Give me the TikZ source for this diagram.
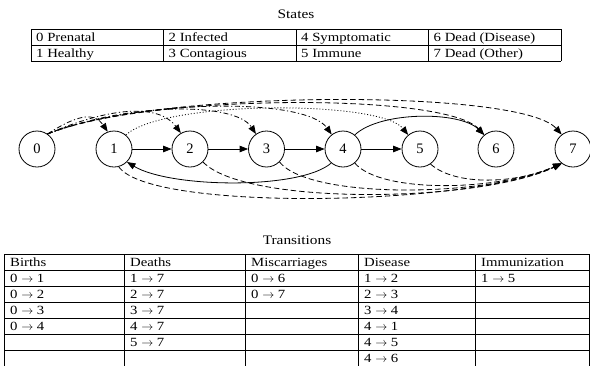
\documentclass[tikz,border=0pt]{standalone}
\usepackage{fontspec}
\setmainfont{Liberation Serif}
\newfontfamily\widefont[FakeStretch=1.18]{Liberation Serif}
\usetikzlibrary{arrows.meta}

\tikzset{
  state/.style={circle, draw, line width=0.8pt, minimum size=36pt, inner sep=0pt,
    font=\fontsize{14.5}{16}\selectfont},
  link/.style={line width=0.8pt, -{Triangle[length=8.5pt,width=6.5pt]}},
  birth/.style={link, dash pattern=on 5pt off 2.5pt on 1.2pt off 2.5pt},
  death/.style={link, dash pattern=on 5.5pt off 3pt},
  immune/.style={link, dash pattern=on 1pt off 2pt},
  rule/.style={line width=1pt},
  cell/.style={anchor=base west, inner sep=0pt, font=\widefont\fontsize{12.5}{14}\selectfont},
  caption/.style={anchor=base, inner sep=0pt, font=\widefont\fontsize{13}{15}\selectfont},
}

\begin{document}
\begin{tikzpicture}[x=1pt, y=-1pt]
\useasboundingbox (0,0) rectangle (590,365);

% ---------- states table ----------
\node[caption] (statesTitle) at (296,18) {States};
\foreach \x in {31,163.5,296,428.5,561} \draw[rule] (\x,29) -- (\x,61);
\foreach \y in {29,45,61} \draw[rule] (31,\y) -- (561,\y);
\node[cell] (s0) at (36,41.5) {0 Prenatal};
\node[cell] (s1) at (36,57.5) {1 Healthy};
\node[cell] (s2) at (168.5,41.5) {2 Infected};
\node[cell] (s3) at (168.5,57.5) {3 Contagious};
\node[cell] (s4) at (301,41.5) {4 Symptomatic};
\node[cell] (s5) at (301,57.5) {5 Immune};
\node[cell] (s6) at (433.5,41.5) {6 Dead (Disease)};
\node[cell] (s7) at (433.5,57.5) {7 Dead (Other)};

% ---------- state graph ----------
\node[state] (n0) at (37,149)  {0};
\node[state] (n1) at (114,149) {1};
\node[state] (n2) at (190,149) {2};
\node[state] (n3) at (266.5,149) {3};
\node[state] (n4) at (343,149) {4};
\node[state] (n5) at (420,149) {5};
\node[state] (n6) at (496,149) {6};
\node[state] (n7) at (573,149) {7};

% disease progression
\draw[link] (n1) -- (n2);
\draw[link] (n2) -- (n3);
\draw[link] (n3) -- (n4);
\draw[link] (n4) -- (n5);
\draw[link] (n4.50) .. controls (380,111) and (460,111) .. (n6.130);
\draw[link] (n4.-130) .. controls (300,190) and (170,188) .. (n1.-45);

% births
\draw[birth] (n0.55) .. controls (80,113) and (95,113) .. (n1.110);
\draw[birth] (n0.55) .. controls (115,105) and (160,105) .. (n2.120);
\draw[birth] (n0.55) .. controls (130,102) and (235,102) .. (n3.125);
\draw[birth] (n0.55) .. controls (140,99) and (305,97) .. (n4.128);

% miscarriages
\draw[death] (n0.55) .. controls (145,94) and (445,92) .. (n6.130);
\draw[death] (n0.55) .. controls (150,90) and (520,88) .. (n7.128);

% immunization
\draw[immune] (n1.50) .. controls (165,100) and (380,100) .. (n5.130);

% deaths
\draw[death] (n1.-75) .. controls (150,212) and (470,206) .. (n7.-128);
\draw[death] (n2.-45) .. controls (245,206) and (480,203) .. (n7.-128);
\draw[death] (n3.-45) .. controls (310,200) and (490,197) .. (n7.-128);
\draw[death] (n4.-50) .. controls (380,193) and (495,192) .. (n7.-128);
\draw[death] (n5.-55) .. controls (455,186) and (515,184) .. (n7.-128);

% ---------- transitions table (runs past the lower edge) ----------
\node[caption] (transTitle) at (297,244) {Transitions};
\foreach \x in {4,124,245,358,475,589} \draw[rule] (\x,254) -- (\x,366);
\foreach \y in {254,270,286,302,318,334,350} \draw[rule] (4,\y) -- (589,\y);

\node[cell] (hB) at (10,266.3) {Births};
\node[cell] (hD) at (130,266.3) {Deaths};
\node[cell] (hM) at (251,266.3) {Miscarriages};
\node[cell] (hS) at (364,266.3) {Disease};
\node[cell] (hI) at (481,266.3) {Immunization};

\node[cell] (b1) at (10,282.3) {0 $\rightarrow$ 1};
\node[cell] (b2) at (10,298.3) {0 $\rightarrow$ 2};
\node[cell] (b3) at (10,314.3) {0 $\rightarrow$ 3};
\node[cell] (b4) at (10,330.3) {0 $\rightarrow$ 4};

\node[cell] (d1) at (130,282.3) {1 $\rightarrow$ 7};
\node[cell] (d2) at (130,298.3) {2 $\rightarrow$ 7};
\node[cell] (d3) at (130,314.3) {3 $\rightarrow$ 7};
\node[cell] (d4) at (130,330.3) {4 $\rightarrow$ 7};
\node[cell] (d5) at (130,346.3) {5 $\rightarrow$ 7};

\node[cell] (m1) at (251,282.3) {0 $\rightarrow$ 6};
\node[cell] (m2) at (251,298.3) {0 $\rightarrow$ 7};

\node[cell] (x1) at (364,282.3) {1 $\rightarrow$ 2};
\node[cell] (x2) at (364,298.3) {2 $\rightarrow$ 3};
\node[cell] (x3) at (364,314.3) {3 $\rightarrow$ 4};
\node[cell] (x4) at (364,330.3) {4 $\rightarrow$ 1};
\node[cell] (x5) at (364,346.3) {4 $\rightarrow$ 5};
\node[cell] (x6) at (364,362.3) {4 $\rightarrow$ 6};

\node[cell] (i1) at (481,282.3) {1 $\rightarrow$ 5};
\end{tikzpicture}
\end{document}
